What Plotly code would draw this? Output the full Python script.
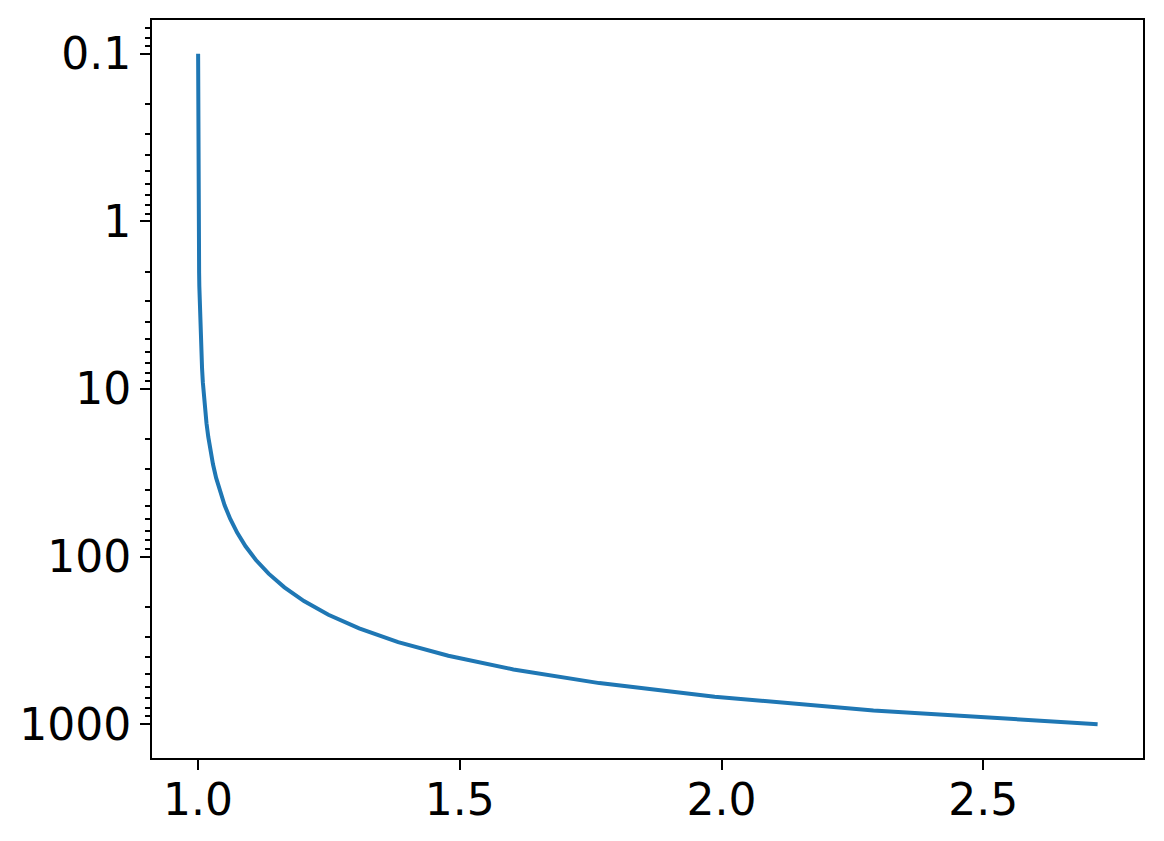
import plotly.graph_objects as go

# Values (points along the curve)
y_vals = [0.1, 0.1207, 0.1456, 0.1758, 0.2121, 0.256, 0.3089, 0.3728, 0.4498, 0.5429,
          0.6551, 0.7906, 0.9541, 1.151, 1.389, 1.677, 2.024, 2.442, 2.947, 3.556,
          4.292, 5.179, 6.251, 7.543, 9.103, 10.99, 13.26, 16.0, 19.31, 23.3,
          28.12, 33.93, 40.95, 49.42, 59.64, 71.97, 86.85, 104.8, 126.5, 152.6,
          184.2, 222.3, 268.3, 323.7, 390.7, 471.5, 569.0, 686.6, 828.6, 1000.0]
x_vals = [1.0001, 1.0001, 1.0001, 1.0002, 1.0002, 1.0003, 1.0003, 1.0004, 1.0004, 1.0005,
          1.0007, 1.0008, 1.001, 1.0012, 1.0014, 1.0017, 1.002, 1.0024, 1.003, 1.0036,
          1.0043, 1.0052, 1.0063, 1.0076, 1.0091, 1.011, 1.0134, 1.0161, 1.0195, 1.0236,
          1.0285, 1.0345, 1.0418, 1.0507, 1.0615, 1.0746, 1.0907, 1.1105, 1.1348, 1.1649,
          1.2023, 1.249, 1.3077, 1.3822, 1.478, 1.6024, 1.7665, 1.9869, 2.2901, 2.7183]

y_tickvals = [0.1, 1, 10, 100, 1000]
y_ticktext = ["0.1", "1", "10", "100", "1000"]
x_tickvals = [1.0, 1.5, 2.0, 2.5]
x_ticktext = ["1.0", "1.5", "2.0", "2.5"]

fig = go.Figure()
fig.add_trace(go.Scatter(x=x_vals, y=y_vals, mode="lines",
                         line=dict(color="#1f77b4", width=4),
                         showlegend=False))

axis_common = dict(showline=True, linecolor="black", linewidth=2, mirror=True,
                   showgrid=False, zeroline=False, ticks="outside", ticklen=10,
                   tickwidth=2, tickcolor="black",
                   tickfont=dict(family="DejaVu Sans", size=44, color="black"))

fig.update_xaxes(range=[0.912, 2.805], tickvals=x_tickvals, ticktext=x_ticktext,
                 ticklabelstandoff=-8, **axis_common)
fig.update_yaxes(type="log", range=[3.202, -1.202], tickvals=y_tickvals,
                 ticktext=y_ticktext,
                 minor=dict(ticks="outside", ticklen=5, tickwidth=1.5,
                            tickcolor="black", dtick="D1", showgrid=False),
                 **axis_common)

fig.update_layout(width=1164, height=841, plot_bgcolor="white",
                  paper_bgcolor="white",
                  margin=dict(l=144, r=29, t=10, b=91))

fig.write_html("out.html")
